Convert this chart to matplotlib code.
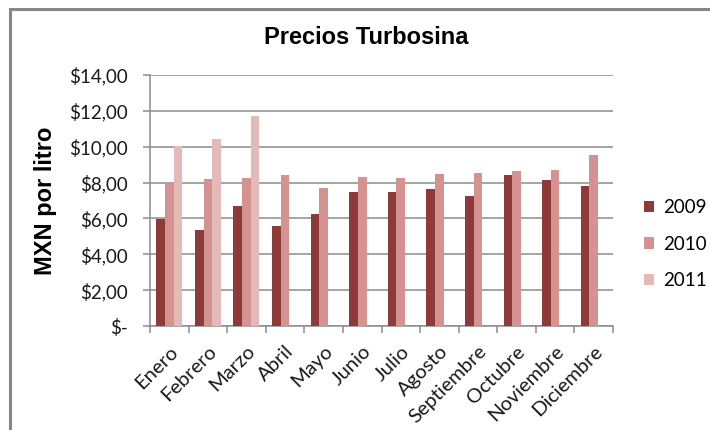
import matplotlib
matplotlib.use("Agg")
import matplotlib.pyplot as plt
from matplotlib.patches import Rectangle
import numpy as np

months = ["Enero", "Febrero", "Marzo", "Abril", "Mayo", "Junio", "Julio",
          "Agosto", "Septiembre", "Octubre", "Noviembre", "Diciembre"]
years = ["2009", "2010", "2011"]
p2009 = [5.95, 5.34, 6.71, 5.56, 6.23, 7.46, 7.46, 7.62, 7.25, 8.40, 8.14, 7.82]
p2010 = [8.00, 8.20, 8.25, 8.40, 7.71, 8.29, 8.25, 8.49, 8.55, 8.66, 8.72, 9.55]
p2011 = [10.05, 10.45, 11.71]
y_ticks = [0, 2, 4, 6, 8, 10, 12, 14]
y_labels = ["$-", "$2,00", "$4,00", "$6,00", "$8,00", "$10,00", "$12,00", "$14,00"]

colors = ["#8E3A38", "#D49391", "#E4BAB9"]
grid_c = "#8C8C8C"
label_font = ["Lato", "DejaVu Sans"]
bold_font = ["Liberation Sans", "DejaVu Sans"]

fig = plt.figure(figsize=(7.1, 4.3), dpi=100)
ax = fig.add_axes([150 / 710, 1 - 326 / 430, 463 / 710, 251 / 430])

# chart frame
fig.patches.append(Rectangle((9.5 / 710, -0.1), 1.2, 1 - 8.5 / 430 + 0.1,
                             transform=fig.transFigure, fill=False,
                             edgecolor="#878787", linewidth=2.2))

x = np.arange(len(months))
w = 0.225
series = [p2009, p2010, p2011]
for i, (vals, c, lab) in enumerate(zip(series, colors, years)):
    xs = x[:len(vals)] + (i - 1) * w
    ax.bar(xs, vals, width=w, color=c, label=lab, zorder=3,
           edgecolor=c, linewidth=0)

ax.set_xlim(-0.5, len(months) - 0.5)
ax.set_ylim(0, 14)
ax.set_yticks(y_ticks)
ax.set_yticklabels(y_labels, fontfamily=label_font, fontsize=13.5, color="#1a1a1a")
ax.yaxis.grid(True, color=grid_c, linewidth=1.1, zorder=0)
ax.set_axisbelow(True)

ax.set_xticks(x)
ax.set_xticklabels(months, rotation=45, ha="right", rotation_mode="anchor",
                   fontfamily=label_font, fontsize=14.5, color="#1a1a1a")
ax.tick_params(axis="x", length=0, pad=12)
ax.set_xticks(np.arange(-0.5, len(months)), minor=True)
ax.tick_params(axis="x", which="minor", length=5, color=grid_c, width=1.1)
ax.tick_params(axis="y", length=5, color=grid_c, width=1.1, pad=11)
ax.yaxis.set_ticks_position("left")

for s in ["top", "right"]:
    ax.spines[s].set_visible(False)
for s in ["left", "bottom"]:
    ax.spines[s].set_color(grid_c)
    ax.spines[s].set_linewidth(1.1)

ax.set_ylabel("MXN por litro", fontfamily=bold_font,
              fontsize=17, fontweight="bold")
ax.yaxis.set_label_coords((57 - 150) / 463, 0.5)

fig.text(366 / 710, 1 - 38 / 430, "Precios Turbosina",
         fontfamily=bold_font, fontsize=17,
         fontweight="bold", ha="center", va="center")

leg = ax.legend(loc="center left", bbox_to_anchor=((644 - 150) / 463, (326 - 244) / 251),
                frameon=False, prop={"family": label_font, "size": 13.5},
                borderpad=0, borderaxespad=0,
                handlelength=0.55, handleheight=0.55, handletextpad=0.45,
                labelspacing=1.05)

fig.savefig("out.png", dpi=100, facecolor="white")
